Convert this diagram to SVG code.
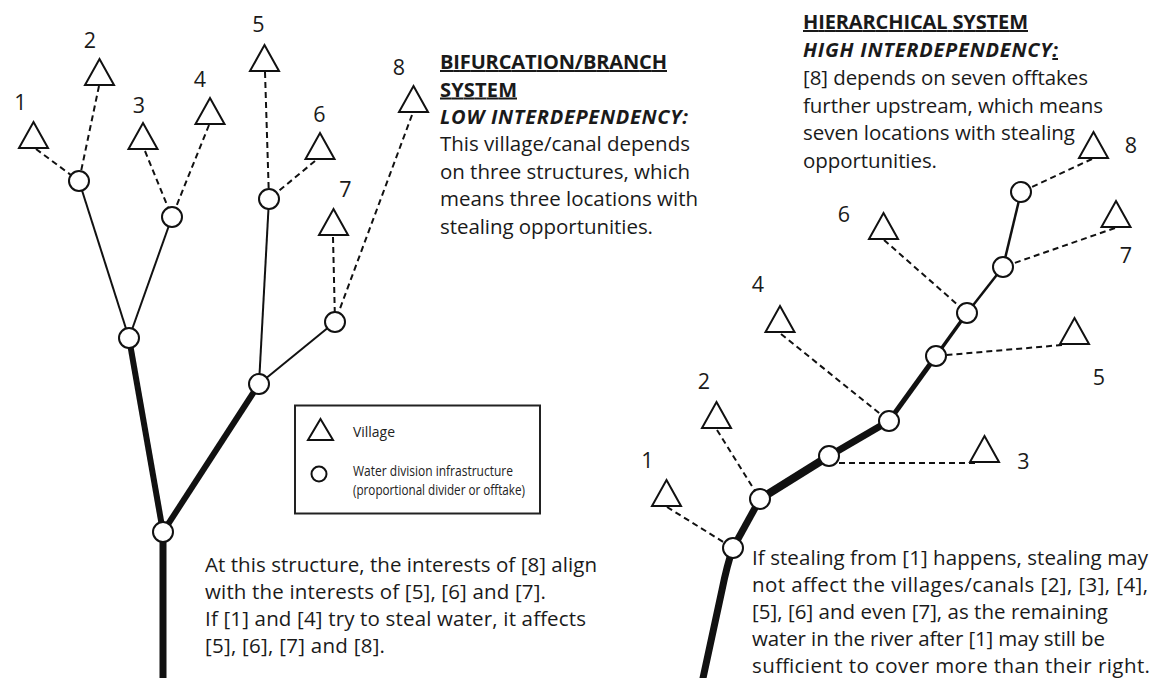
<svg xmlns="http://www.w3.org/2000/svg" xmlns:xlink="http://www.w3.org/1999/xlink" width="1151" height="678" viewBox="0 0 1151 678">
<style>
.bg{fill:#ffffff}
.tri{fill:#ffffff;stroke:#111;stroke-width:2;stroke-linejoin:miter}
.st{fill:#ffffff;stroke:#111;stroke-width:2}
.dash{fill:none;stroke:#111;stroke-width:2;stroke-dasharray:6 4}
.ln{fill:none;stroke:#111;stroke-linecap:butt}
.txt{font-family:"Open Sans","Liberation Sans",sans-serif;font-size:20.5px;fill:#1a1a1a}
.num{font-family:"Open Sans","Liberation Sans",sans-serif;font-size:21.5px;fill:#1a1a1a;text-anchor:middle}
.b{font-weight:bold;font-size:20px}
.bi{font-weight:bold;font-style:italic;font-size:20px}
.u{text-decoration:underline}
.leg{font-family:"Open Sans","Liberation Sans",sans-serif;font-size:14.5px;fill:#222}
</style>
<defs>
<path id="tri" d="M0,0 L14.5,26 L-14.5,26 Z"/>
</defs>
<rect class="bg" x="0" y="0" width="1151" height="678"/>

<g id="connectors">
  <line class="ln" x1="163" y1="532" x2="163" y2="690" stroke-width="7"/>
  <line class="ln" x1="129" y1="338" x2="163" y2="532" stroke-width="6"/>
  <line class="ln" x1="259" y1="384" x2="163" y2="532" stroke-width="6"/>
  <line class="ln" x1="79" y1="181" x2="129" y2="338" stroke-width="2"/>
  <line class="ln" x1="172" y1="217" x2="129" y2="338" stroke-width="2"/>
  <line class="ln" x1="269" y1="199" x2="259" y2="384" stroke-width="2"/>
  <line class="ln" x1="335" y1="322" x2="259" y2="384" stroke-width="2"/>
  <line class="dash" x1="36" y1="149" x2="79" y2="181"/>
  <line class="dash" x1="99" y1="86" x2="79" y2="181"/>
  <line class="dash" x1="145" y1="151" x2="172" y2="217"/>
  <line class="dash" x1="209" y1="125" x2="172" y2="217"/>
  <line class="dash" x1="265" y1="72" x2="269" y2="199"/>
  <line class="dash" x1="315" y1="161" x2="269" y2="199"/>
  <line class="dash" x1="333" y1="237" x2="335" y2="322"/>
  <line class="dash" x1="412" y1="115" x2="335" y2="322"/>
  <path class="ln" d="M700,692 L722,590 Q727,565 733,548" stroke-width="7"/>
  <line class="ln" x1="733" y1="548" x2="760" y2="499" stroke-width="7"/>
  <line class="ln" x1="760" y1="499" x2="829" y2="456" stroke-width="8"/>
  <line class="ln" x1="829" y1="456" x2="889" y2="421" stroke-width="7"/>
  <line class="ln" x1="889" y1="421" x2="936" y2="356" stroke-width="5"/>
  <line class="ln" x1="936" y1="356" x2="967" y2="313" stroke-width="3.5"/>
  <line class="ln" x1="967" y1="313" x2="1003" y2="267" stroke-width="2.5"/>
  <line class="ln" x1="1003" y1="267" x2="1021" y2="192" stroke-width="2.5"/>
  <line class="dash" x1="667" y1="507" x2="733" y2="548"/>
  <line class="dash" x1="717" y1="430" x2="760" y2="499"/>
  <line class="dash" x1="975" y1="463" x2="829" y2="463"/>
  <line class="dash" x1="781" y1="334" x2="889" y2="421"/>
  <line class="dash" x1="1062" y1="345" x2="936" y2="356"/>
  <line class="dash" x1="884" y1="240" x2="967" y2="313"/>
  <line class="dash" x1="1115" y1="228" x2="1003" y2="267"/>
  <line class="dash" x1="1092" y1="159" x2="1021" y2="192"/>
</g>

<g id="L1"><use xlink:href="#tri" href="#tri" class="tri" x="33.5" y="122"/><text class="num" x="20.5" y="110">1</text></g>
<g id="L2"><use xlink:href="#tri" href="#tri" class="tri" x="99.5" y="59"/><text class="num" x="90" y="48">2</text></g>
<g id="L3"><use xlink:href="#tri" href="#tri" class="tri" x="143" y="123"/><text class="num" x="139" y="113">3</text></g>
<g id="L4"><use xlink:href="#tri" href="#tri" class="tri" x="210" y="98"/><text class="num" x="200" y="87">4</text></g>
<g id="L5"><use xlink:href="#tri" href="#tri" class="tri" x="264.5" y="45"/><text class="num" x="258.5" y="32">5</text></g>
<g id="L6"><use xlink:href="#tri" href="#tri" class="tri" x="320" y="133"/><text class="num" x="319.5" y="122">6</text></g>
<g id="L7"><use xlink:href="#tri" href="#tri" class="tri" x="333.5" y="209"/><text class="num" x="345.5" y="197">7</text></g>
<g id="L8"><use xlink:href="#tri" href="#tri" class="tri" x="413.5" y="86"/><text class="num" x="399" y="75">8</text></g>

<g id="LA"><circle class="st" cx="79" cy="181" r="10"/></g>
<g id="LB"><circle class="st" cx="172" cy="217" r="10"/></g>
<g id="LC"><circle class="st" cx="269" cy="199" r="10"/></g>
<g id="LD"><circle class="st" cx="335" cy="322" r="10"/></g>
<g id="LE"><circle class="st" cx="129" cy="338" r="10"/></g>
<g id="LF"><circle class="st" cx="259" cy="384" r="10"/></g>
<g id="LG"><circle class="st" cx="163" cy="532" r="10"/></g>

<g id="R1"><use xlink:href="#tri" href="#tri" class="tri" x="666.5" y="480"/><text class="num" x="647.5" y="468">1</text></g>
<g id="R2"><use xlink:href="#tri" href="#tri" class="tri" x="716.5" y="402"/><text class="num" x="704" y="389">2</text></g>
<g id="R3"><use xlink:href="#tri" href="#tri" class="tri" x="984.5" y="436"/><text class="num" x="1023.5" y="469">3</text></g>
<g id="R4"><use xlink:href="#tri" href="#tri" class="tri" x="780" y="306"/><text class="num" x="758" y="292">4</text></g>
<g id="R5"><use xlink:href="#tri" href="#tri" class="tri" x="1074.5" y="318"/><text class="num" x="1099" y="385">5</text></g>
<g id="R6"><use xlink:href="#tri" href="#tri" class="tri" x="883.5" y="213"/><text class="num" x="844" y="222">6</text></g>
<g id="R7"><use xlink:href="#tri" href="#tri" class="tri" x="1116" y="201"/><text class="num" x="1126" y="263">7</text></g>
<g id="R8"><use xlink:href="#tri" href="#tri" class="tri" x="1093.5" y="132"/><text class="num" x="1131" y="153">8</text></g>

<g id="S1"><circle class="st" cx="733" cy="548" r="10"/></g>
<g id="S2"><circle class="st" cx="760" cy="499" r="10"/></g>
<g id="S3"><circle class="st" cx="829" cy="456" r="10"/></g>
<g id="S4"><circle class="st" cx="889" cy="421" r="10"/></g>
<g id="S5"><circle class="st" cx="936" cy="356" r="10"/></g>
<g id="S6"><circle class="st" cx="967" cy="313" r="10"/></g>
<g id="S7"><circle class="st" cx="1003" cy="267" r="10"/></g>
<g id="S8"><circle class="st" cx="1021" cy="192" r="10"/></g>

<g id="text-bifurcation">
  <text class="txt b u" x="440" y="69" textLength="227">BIFURCATION/BRANCH</text>
  <text class="txt b u" x="440" y="96.5" textLength="77">SYSTEM</text>
  <text class="txt bi" x="440" y="124" textLength="248">LOW INTERDEPENDENCY:</text>
  <text class="txt" x="440" y="151" textLength="250">This village/canal depends</text>
  <text class="txt" x="440" y="179" textLength="250">on three structures, which</text>
  <text class="txt" x="440" y="206" textLength="258">means three locations with</text>
  <text class="txt" x="440" y="234" textLength="213">stealing opportunities.</text>
</g>

<g id="text-hierarchical">
  <text class="txt b u" x="803" y="29" textLength="225">HIERARCHICAL SYSTEM</text>
  <text class="txt bi" x="803" y="57" textLength="255">HIGH INTERDEPENDENCY<tspan class="u">:</tspan></text>
  <text class="txt" x="803" y="85" textLength="285">[8] depends on seven offtakes</text>
  <text class="txt" x="803" y="113" textLength="300">further upstream, which means</text>
  <text class="txt" x="803" y="140" textLength="272">seven locations with stealing</text>
  <text class="txt" x="803" y="168" textLength="134">opportunities.</text>
</g>

<g id="legend">
  <rect x="295" y="405.5" width="245" height="108" fill="#ffffff" stroke="#222" stroke-width="2"/>
  <path class="tri" d="M320.5,419 L333,440 L308,440 Z"/>
  <text class="leg" x="353" y="437" textLength="42" lengthAdjust="spacingAndGlyphs">Village</text>
  <circle class="st" cx="319" cy="474" r="7.5"/>
  <text class="leg" x="353" y="476" textLength="160" lengthAdjust="spacingAndGlyphs">Water division infrastructure</text>
  <text class="leg" x="353" y="495" textLength="172" lengthAdjust="spacingAndGlyphs">(proportional divider or offtake)</text>
</g>

<g id="text-left-bottom">
  <text class="txt" x="205" y="572" textLength="392">At this structure, the interests of [8] align</text>
  <text class="txt" x="205" y="599" textLength="341">with the interests of [5], [6] and [7].</text>
  <text class="txt" x="205" y="626" textLength="381">If [1] and [4] try to steal water, it affects</text>
  <text class="txt" x="205" y="653" textLength="180">[5], [6], [7] and [8].</text>
</g>

<g id="text-right-bottom">
  <text class="txt" x="752" y="565" textLength="396">If stealing from [1] happens, stealing may</text>
  <text class="txt" x="752" y="592" textLength="396">not affect the villages/canals [2], [3], [4],</text>
  <text class="txt" x="752" y="619" textLength="356">[5], [6] and even [7], as the remaining</text>
  <text class="txt" x="752" y="646" textLength="353">water in the river after [1] may still be</text>
  <text class="txt" x="752" y="673" textLength="398">sufficient to cover more than their right.</text>
</g>
</svg>
